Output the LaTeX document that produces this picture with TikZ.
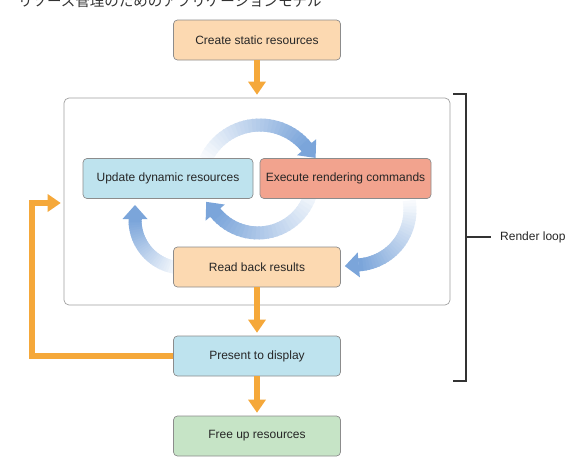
\documentclass[tikz,border=0pt]{standalone}
\usepackage{fontspec}
\setmainfont{Liberation Sans}
\newfontfamily\jpfont{Noto Sans CJK JP}
\usetikzlibrary{arrows.meta}

\definecolor{peach}{HTML}{FCD9B1}
\definecolor{skyblue}{HTML}{BEE3EE}
\definecolor{salmon}{HTML}{F2A38E}
\definecolor{mint}{HTML}{C6E4C6}
\definecolor{loopgray}{HTML}{A0A0A0}
\definecolor{boxgray}{HTML}{8C8C8C}
\definecolor{flow}{HTML}{F5A83A}
\definecolor{arcblue}{HTML}{7BA5DA}
\definecolor{bracketgray}{HTML}{333333}

\tikzset{
  stage/.style={draw=boxgray, line width=0.7pt, rounded corners=4pt,
    minimum width=167pt, minimum height=40pt,
    font=\fontsize{12}{14}\selectfont, text=black!85},
  flowarrow/.style={flow, line width=6pt, shorten >=3pt,
    -{Triangle[width=18pt,length=13pt,line width=0pt]}},
}

% fading arc: centre x, centre y, radius, start angle, end angle (clockwise)
\newcommand\fadearc[5]{%
  \foreach \i in {0,...,29}{
    \pgfmathsetmacro\a{#4+(#5-#4)*\i/30}
    \pgfmathsetmacro\b{#4+(#5-#4)*(\i+1.4)/30}
    \pgfmathtruncatemacro\p{5+95*\i/29}
    \draw[line width=13pt, arcblue!\p!white] (#1,#2) ++(\a:#3)
      arc[start angle=\a, end angle=\b, radius=#3];
  }
  \draw[arcblue, line width=13pt,
    -{Triangle[width=25pt,length=14pt,line width=0pt]}]
    (#1,#2) ++(#5:#3) -- ++({#5-90}:15);
}

\begin{document}
\begin{tikzpicture}[x=1pt, y=1pt]
\useasboundingbox (0,0) rectangle (573,-458);

% title, cut off by the top edge
\node[anchor=base west, inner sep=0pt, text=black!80,
  font=\jpfont\fontsize{14.5}{16}\selectfont] (title) at (18,-6.5)
  {リソース管理のためのアプリケーションモデル};

% render loop frame
\node[draw=loopgray, line width=0.7pt, rounded corners=5pt,
  minimum width=386pt, minimum height=207pt] (loop) at (257,-201.5) {};

% blue cycle
\fadearc{260}{-185}{60}{155}{40}
\fadearc{258}{-178}{55}{-10}{-140}
\fadearc{183}{-220}{48}{-95}{-180}
\fadearc{355}{-210}{55}{10}{-85}

% stages
\node[stage, fill=peach] (create) at (257,-40) {Create static resources};
\node[stage, fill=skyblue, minimum width=170pt] (update) at (168,-178.5) {Update dynamic resources};
\node[stage, fill=salmon, minimum width=171pt] (execute) at (345.5,-178.5) {Execute rendering commands};
\node[stage, fill=peach] (readback) at (257,-267) {Read back results};
\node[stage, fill=skyblue] (present) at (257,-356) {Present to display};
\node[stage, fill=mint] (freeup) at (257,-436) {Free up resources};

% orange flow
\draw[flowarrow] (create.south) -- (loop.north);
\draw[flowarrow] (readback.south) -- (present.north);
\draw[flowarrow] (present.south) -- (freeup.north);
\coordinate (back) at (32,-203);
\draw[flowarrow, line join=miter] (present.west) -| (back) -- (loop.west |- back);

% bracket
\coordinate (btop) at (453,-94);
\coordinate (bbot) at (453,-381);
\coordinate (bmid) at (466,-237);
\node[anchor=west, inner sep=0pt, font=\fontsize{12}{14}\selectfont, text=black!85]
  (render) at (500,-237) {Render loop};
\draw[bracketgray, line width=1.2pt] (btop) -- ++(13,0) |- (bbot);
\draw[bracketgray, line width=1.4pt, shorten >=9pt] (bmid) -- (render.west);
\end{tikzpicture}
\end{document}
